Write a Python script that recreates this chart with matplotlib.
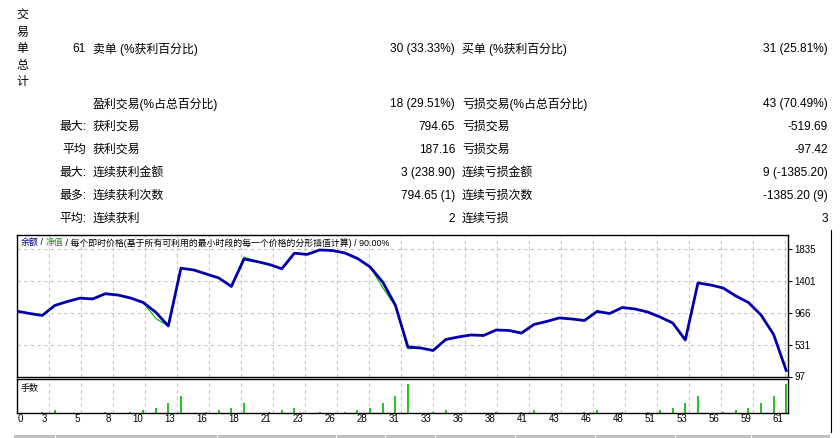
import numpy as np
import matplotlib
matplotlib.use('Agg')
import matplotlib.pyplot as plt
from matplotlib.patches import Rectangle
from matplotlib.lines import Line2D

plt.rcParams['font.family'] = ['Liberation Sans', 'Noto Sans CJK SC']

# --- report table ---
side_label = "交易单总计"
row_heads = ["61", "", "最大:", "平均", "最大:", "最多:", "平均:"]
left_names = ["卖单 (%获利百分比)", "盈利交易(%占总百分比)", "获利交易", "获利交易",
              "连续获利金额", "连续获利次数", "连续获利"]
left_vals = ["30 (33.33%)", "18 (29.51%)", "794.65", "187.16",
             "3 (238.90)", "794.65 (1)", "2"]
right_names = ["买单 (%获利百分比)", "亏损交易(%占总百分比)", "亏损交易", "亏损交易",
               "连续亏损金额", "连续亏损次数", "连续亏损"]
right_vals = ["31 (25.81%)", "43 (70.49%)", "-519.69", "-97.42",
              "9 (-1385.20)", "-1385.20 (9)", "3"]

# --- chart data (trade number 0..61) ---
balance = [991, 959, 932, 1069, 1123, 1169, 1158, 1229, 1212, 1171,
           1110, 977, 788, 1579, 1555, 1500, 1445, 1329, 1705, 1671,
           1630, 1571, 1784, 1767, 1828, 1821, 1787, 1712, 1596, 1390,
           1075, 501, 487, 453, 603, 638, 665, 658, 733, 727,
           692, 809, 850, 898, 884, 863, 987, 959, 1041, 1021,
           980, 911, 829, 597, 1377, 1349, 1308, 1199, 1110, 939,
           672, 179]
equity = list(balance)
equity[11] = 891
equity[18] = 1732
equity[29] = 1315
equity[30] = 1060
equity[31] = 476
equity[40] = 680
equity[46] = 995

lots = [0.01] * 62
for t, v in [(2, 0.1), (3, 0.3), (7, 0.1), (9, 0.1), (10, 0.3), (11, 0.5), (12, 1.0),
             (13, 1.7), (15, 0.1), (16, 0.3), (17, 0.5), (18, 1.0), (20, 0.1), (21, 0.3),
             (22, 0.5), (24, 0.1), (26, 0.1), (27, 0.3), (28, 0.5), (29, 1.0), (30, 1.7),
             (31, 2.9), (33, 0.1), (34, 0.3), (38, 0.1), (40, 0.1), (41, 0.3), (45, 0.1),
             (46, 0.3), (48, 0.1), (50, 0.1), (51, 0.3), (52, 0.5), (53, 1.0), (54, 1.7),
             (56, 0.1), (57, 0.3), (58, 0.5), (59, 1.0), (60, 1.7), (61, 2.9)]:
    lots[t] = v
lots[0] = 0

y_ticks = [97, 531, 966, 1401, 1835]
x_labels = ["3", "5", "8", "10", "13", "16", "18", "21", "23", "26", "28", "31",
            "33", "36", "38", "41", "43", "46", "48", "51", "53", "56", "59", "61"]

W, H = 840, 438
fig = plt.figure(figsize=(8.4, 4.38), dpi=100)
fig.patch.set_facecolor('white')


def fx(x):
    return x / W


def fy(y):
    return 1 - y / H


fs = 8.6
for i, ch in enumerate(side_label):
    fig.text(fx(22.7), fy(16 + 16.5 * i), ch, fontsize=fs, ha='center', va='center')

row_y = [49, 104, 127, 150, 173, 196, 219]
for i, y in enumerate(row_y):
    fig.text(fx(86), fy(y), row_heads[i], fontsize=fs, ha='right', va='center')
    fig.text(fx(93), fy(y), left_names[i], fontsize=fs, ha='left', va='center')
    fig.text(fx(455), fy(y), left_vals[i], fontsize=fs, ha='right', va='center')
    fig.text(fx(462), fy(y), right_names[i], fontsize=fs, ha='left', va='center')
    fig.text(fx(828), fy(y), right_vals[i], fontsize=fs, ha='right', va='center')

# --- axes ---
px_per_trade = 12.61
x0, x1 = 17, 788
xmax = (x1 - x0) / px_per_trade
ax = fig.add_axes([fx(x0), fy(376.5), (x1 - x0) / W, (376.5 - 234.7) / H])
axv = fig.add_axes([fx(x0), fy(413.3), (x1 - x0) / W, (413.3 - 379.3) / H])

grid_x = [32 * k / px_per_trade for k in range(1, 25)]
gkw = dict(color='#c4c4c4', lw=0.8, linestyle=(0, (3, 3)), zorder=0)
for a in (ax, axv):
    a.set_xlim(0, xmax)
    for g in grid_x:
        a.axvline(g, **gkw)
    for s in a.spines.values():
        s.set_linewidth(1.0)
        s.set_color('black')
for yt in y_ticks[1:]:
    ax.axhline(yt, **gkw)

trades = np.arange(len(balance))
ax.plot(trades, equity, color='#00b400', lw=0.8, zorder=2)
ax.plot(trades, balance, color='#0000aa', lw=2.0, zorder=3)
ax.set_ylim(97, 2037)
ax.set_xticks([])
ax.yaxis.tick_right()
ax.set_yticks(y_ticks)
ax.set_yticklabels([str(v) for v in y_ticks])
ax.tick_params(axis='y', length=3, width=0.8, pad=1.5, labelsize=7)

axv.vlines(trades, 0, lots, color='#00b400', lw=1.2, zorder=2)
axv.set_ylim(0, 3.35)
axv.set_xticks([])
axv.set_yticks([])
axv.text(fx(21), fy(388), "手数", transform=fig.transFigure, fontsize=6.5,
         ha='left', va='center')

fig.text(fx(18), fy(419.5), "0", fontsize=7, ha='left', va='center')
for k, lab in enumerate(x_labels, start=1):
    fig.text(fx(x0 + 32 * k - 1.5), fy(419.5), lab, fontsize=7, ha='right', va='center')

# multi-coloured chart caption
renderer = fig.canvas.get_renderer()
pieces = [("余额", '#00008b'), (" / ", 'black'), ("净值", '#00a000'),
          (" / 每个即时价格(基于所有可利用的最小时段的每一个价格的分形插值计算) / 90.00%", 'black')]
cx = 20.5
for txt, col in pieces:
    t = fig.text(fx(cx), fy(242.7), txt, fontsize=6.4, color=col, ha='left', va='center')
    cx += t.get_window_extent(renderer).width

# window frame bits
fig.add_artist(Line2D([fx(830.5), fx(830.5)], [fy(230), fy(432)], color='black', lw=0.8))
for a, b in [(14, 55), (56, 217), (218, 336), (337, 385), (386, 435), (436, 515),
             (516, 595), (596, 675), (676, 751), (752, 830)]:
    fig.add_artist(Rectangle((fx(a), 0), (b - a) / W, 3 / H, facecolor='#c0c0c0',
                             edgecolor='none', transform=fig.transFigure))

fig.savefig('out.png', dpi=100)
